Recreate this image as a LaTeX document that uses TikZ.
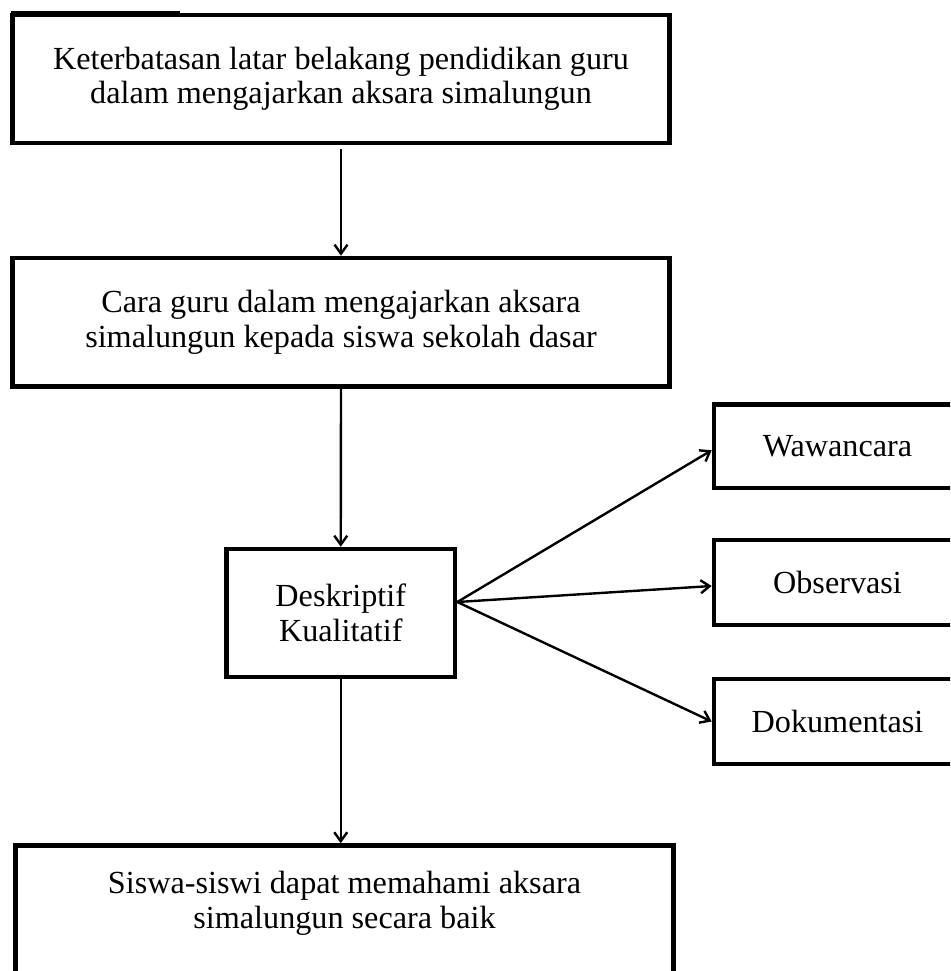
\documentclass[tikz,border=0pt]{standalone}
\usepackage{fontspec}
\setmainfont{Liberation Serif}
\usetikzlibrary{arrows.meta,calc}
\begin{document}
\begin{tikzpicture}[x=1pt,y=-1pt,
  box/.style={draw=black, line width=4.6pt, rectangle, align=center, inner sep=0pt,
    font=\fontsize{32.2}{34.5}\selectfont},
  conn/.style={line width=2.4pt, -{Straight Barb[length=9pt,width=13pt,line width=2.4pt]}}]
\useasboundingbox (0,0) rectangle (950,971);
\clip (0,0) rectangle (950,971);
\node[box, minimum width=657, minimum height=128] (b1) at (341,79)
  {Keterbatasan latar belakang pendidikan guru\\dalam mengajarkan aksara simalungun};
\draw[line width=3.3pt] (10.5,12.8) -- (180,12.8);
\node[box, minimum width=657, minimum height=128.5] (b2) at (341,322.25)
  {Cara guru dalam mengajarkan aksara\\simalungun kepada siswa sekolah dasar};
\node[box, minimum width=228.5, minimum height=128] (b3) at (340.75,613)
  {Deskriptif\\Kualitatif};
\node[box, minimum width=247, minimum height=83.5] (w) at (837.5,446.25) {Wawancara};
\node[box, minimum width=247, minimum height=85] (o) at (837.5,582.5) {Observasi};
\node[box, minimum width=247, minimum height=85] (d) at (837.5,721.5) {Dokumentasi};
\node[box, anchor=north, minimum width=658, inner ysep=26, text depth=120] (b4) at (344.5,843.25)
  {Siswa-siswi dapat memahami aksara\\simalungun secara baik};
\draw[conn] ($(b1.south)+(0,4)$) -- (b2.north);
\draw[conn] (b2.south) -- (b3.north);
\draw[conn] (b3.south) -- (b3.south |- b4.north);
\coordinate (fan) at ($(b3.east)+(0,-11)$);
\draw[conn] (fan) -- ($(w.west)+(0,4)$);
\draw[conn] (fan) -- ($(o.west)+(0,3.5)$);
\draw[conn] (fan) -- (d.west);
\end{tikzpicture}
\end{document}
